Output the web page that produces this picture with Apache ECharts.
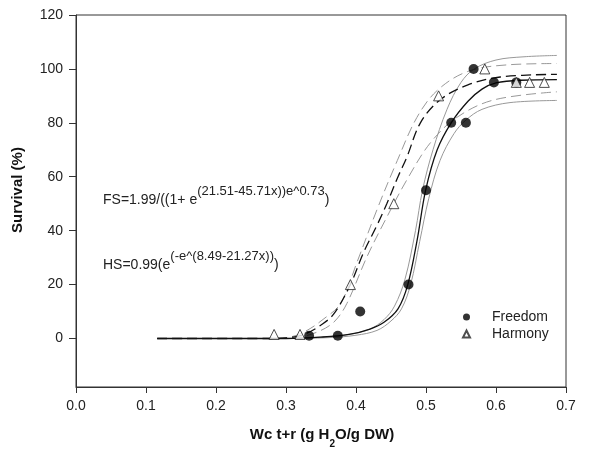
<!DOCTYPE html>
<html lang="en">
<head>
    <meta charset="UTF-8">
    <title>Survival</title>
    <script src="https://cdn.jsdelivr.net/npm/echarts@6/dist/echarts.min.js"></script>
</head>
<style>
    * { margin: 0; padding: 0; }
    html, body { width: 611px; height: 450px; background: #fff; }
    #main { width: 611px; height: 450px; }
</style>
<body>
<div id="main"></div>
<script>
    // observed points
    var freedomX = [0.333, 0.374, 0.406, 0.475, 0.500, 0.536, 0.557, 0.568, 0.597, 0.629];
    var freedomY = [1, 1, 10, 20, 55, 80, 80, 100, 95, 95];
    var harmonyX = [0.283, 0.320, 0.392, 0.454, 0.518, 0.584, 0.629, 0.648, 0.669];
    var harmonyY = [1.5, 1.5, 20, 50, 90, 100, 95, 95, 95];

    // fitted curves and 95% bands
    var fsFitX = [0.116, 0.30, 0.35, 0.39, 0.42, 0.44, 0.46, 0.474, 0.487, 0.4995, 0.516, 0.536, 0.56, 0.58, 0.60, 0.635, 0.687];
    var fsFitY = [0, 0, 0.5, 1.5, 3.5, 6, 11, 20, 36, 55, 70, 80, 88, 92.5, 94.8, 95.8, 96];
    var fsUpX = [0.116, 0.30, 0.35, 0.39, 0.42, 0.44, 0.455, 0.47, 0.485, 0.495, 0.51, 0.53, 0.55, 0.569, 0.60, 0.64, 0.687];
    var fsUpY = [0, 0, 0.5, 1.5, 3.5, 7, 12, 22, 40, 55, 70, 85, 95, 100, 103.3, 104.5, 105];
    var fsLoX = [0.116, 0.30, 0.36, 0.40, 0.43, 0.45, 0.465, 0.478, 0.491, 0.504, 0.52, 0.54, 0.557, 0.58, 0.62, 0.687];
    var fsLoY = [0, 0, 0.3, 1.2, 3, 6.5, 11, 20, 36, 52, 66, 76, 81, 85, 87.5, 88.3];

    var hsFitX = [0.116, 0.28, 0.31, 0.33, 0.35, 0.368, 0.392, 0.411, 0.43, 0.444, 0.46, 0.473, 0.492, 0.52, 0.559, 0.606, 0.687];
    var hsFitY = [0, 0, 0.5, 2, 5, 9, 20, 32, 42, 50, 60, 67.5, 80, 88.5, 94, 97, 98];
    var hsUpX = [0.116, 0.28, 0.31, 0.33, 0.35, 0.378, 0.401, 0.43, 0.459, 0.487, 0.516, 0.559, 0.616, 0.687];
    var hsUpY = [0, 0, 0.8, 3, 6.5, 13, 28, 47.8, 66, 82, 92, 99, 101.5, 102];
    var hsLoX = [0.116, 0.29, 0.32, 0.35, 0.37, 0.387, 0.416, 0.444, 0.473, 0.506, 0.544, 0.597, 0.687];
    var hsLoY = [0, 0, 0.5, 3, 6.5, 13, 30.5, 45, 59, 72.5, 82, 88.5, 91.5];

    var yTicks = [0, 20, 40, 60, 80, 100, 120];

    var font = 'Liberation Sans, Arial, sans-serif';
    var zip = function (xs, ys) { return xs.map((x, i) => [x, ys[i]]); };

    var curve = function (xs, ys, color, width, dashed) {
        return {
            type: 'line', data: zip(xs, ys), smooth: 0.35,
            showSymbol: false, silent: true, z: 2,
            lineStyle: { color: color, width: width, type: dashed ? [10, 5] : 'solid' }
        };
    };

    // equation text: normal part + raised exponent
    var eqRich = {
        a: { fontSize: 14, lineHeight: 22, verticalAlign: 'bottom', fontFamily: font },
        s: { fontSize: 13, lineHeight: 22, verticalAlign: 'top', fontFamily: font }
    };

    var myChart = echarts.init(document.getElementById('main'));
    var option = {
        animation: false,
        backgroundColor: '#fff',
        textStyle: { fontFamily: font },
        grid: { left: 76, right: 45, top: 15, bottom: 63, show: true, borderColor: '#333', borderWidth: 1 },
        xAxis: {
            type: 'value', min: 0, max: 0.7, interval: 0.1,
            axisLine: { onZero: false, lineStyle: { color: '#333' } },
            axisTick: { length: 6, lineStyle: { color: '#333' } },
            axisLabel: { color: '#222', fontSize: 14, margin: 12, formatter: v => v.toFixed(1) },
            splitLine: { show: false }
        },
        yAxis: {
            type: 'value', min: -18, max: 120,
            axisLine: { show: true, onZero: false, lineStyle: { color: '#333' } },
            axisTick: { show: true, length: 7, customValues: yTicks, lineStyle: { color: '#333' } },
            axisLabel: { color: '#222', fontSize: 14, margin: 13, customValues: yTicks },
            splitLine: { show: false }
        },
        legend: {
            orient: 'vertical', left: 457, top: 305,
            itemWidth: 7, itemHeight: 7, itemGap: 3,
            data: ['Freedom', 'Harmony'],
            textStyle: { fontSize: 14, color: '#222', padding: [0, 0, 0, 17] }
        },
        series: [
            curve(fsUpX, fsUpY, '#999', 1, false),
            curve(fsLoX, fsLoY, '#999', 1, false),
            curve(hsUpX, hsUpY, '#999', 1, true),
            curve(hsLoX, hsLoY, '#999', 1, true),
            curve(hsFitX, hsFitY, '#111', 1.3, true),
            curve(fsFitX, fsFitY, '#111', 1.3, false),
            {
                name: 'Freedom', type: 'scatter', data: zip(freedomX, freedomY),
                symbol: 'circle', symbolSize: 10, z: 3,
                itemStyle: { color: '#000' }
            },
            {
                name: 'Harmony', type: 'scatter', data: zip(harmonyX, harmonyY),
                symbol: 'triangle', symbolSize: 10, z: 4,
                itemStyle: { color: '#fff', borderColor: '#222', borderWidth: 1 }
            }
        ],
        graphic: [
            {
                type: 'text', x: 103, y: 196,
                style: {
                    text: '{a|FS=1.99/((1+ e}{s|(21.51-45.71x))e^0.73}{a|)}',
                    verticalAlign: 'middle', fill: '#222', fontFamily: font, rich: eqRich
                }
            },
            {
                type: 'text', x: 103, y: 261,
                style: {
                    text: '{a|HS=0.99(e}{s|(-e^(8.49-21.27x))}{a|)}',
                    verticalAlign: 'middle', fill: '#222', fontFamily: font, rich: eqRich
                }
            },
            {
                type: 'text', x: 18, y: 190, rotation: Math.PI / 2,
                style: {
                    text: 'Survival (%)', align: 'center', verticalAlign: 'middle',
                    fontSize: 15, fontWeight: 'bold', fill: '#111', fontFamily: font
                }
            },
            {
                type: 'text', x: 322, y: 438,
                style: {
                    text: '{b|Wc t+r (g H}{u|2}{b|O/g DW)}',
                    align: 'center', verticalAlign: 'middle', fill: '#111', fontFamily: font,
                    rich: {
                        b: { fontSize: 15, fontWeight: 'bold', lineHeight: 22, verticalAlign: 'top', fontFamily: font },
                        u: { fontSize: 10, fontWeight: 'bold', lineHeight: 22, verticalAlign: 'bottom', fontFamily: font }
                    }
                }
            }
        ]
    };
    myChart.setOption(option);
</script>
</body>
</html>
